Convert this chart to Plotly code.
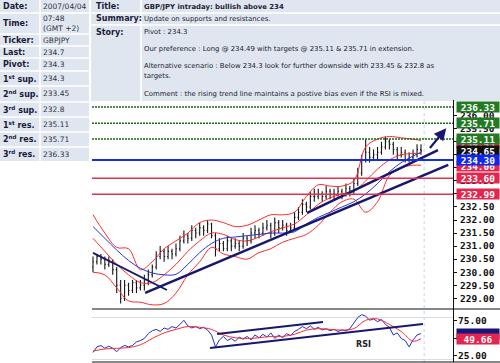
import plotly.graph_objects as go

W, H = 500, 363
def px(x): return x / W
def py(y): return 1 - y / H

# ---------------- data ----------------
BAR_IDX = list(range(84))
OPEN = [230.2, 230.4, 230.6, 230.5, 230.3, 230.4, 230.1, 229.5, 229.0, 229.5,
        229.3, 229.6, 229.4, 229.5, 229.7, 229.9, 230.2, 230.6, 230.8, 230.6,
        230.8, 230.7, 230.9, 231.2, 231.4, 231.3, 231.6, 231.5, 231.7, 231.6,
        231.85, 231.4, 230.9, 231.1, 230.9, 231.2, 231.0, 231.1, 231.0, 231.3,
        231.2, 231.5, 231.6, 231.5, 231.7, 231.8, 231.5, 231.9, 231.7, 231.8,
        231.6, 231.7, 232.1, 232.3, 232.6, 232.5, 232.9, 232.9, 233.0, 232.9,
        233.1, 233.0, 233.0, 233.1, 233.0, 233.2, 233.1, 233.4, 233.8, 234.3,
        234.6, 234.4, 234.5, 234.6, 234.8, 235.0, 234.9, 234.7, 234.5, 234.6,
        234.3, 234.4, 234.5, 234.7]
HIGH = [230.6, 230.7, 230.7, 230.6, 230.6, 230.5, 230.2, 229.7, 229.7, 229.6,
        229.7, 229.7, 229.7, 229.9, 230.1, 230.3, 230.8, 231.0, 230.9, 231.0,
        230.9, 231.1, 231.4, 231.6, 231.5, 231.8, 231.7, 231.9, 231.8, 232.0,
        231.9, 231.5, 231.3, 231.2, 231.4, 231.3, 231.3, 231.2, 231.5, 231.4,
        231.7, 231.8, 231.7, 231.9, 232.0, 231.9, 232.1, 232.0, 232.0, 231.9,
        231.9, 232.3, 232.5, 232.8, 232.7, 233.1, 233.2, 233.2, 233.1, 233.3,
        233.2, 233.2, 233.3, 233.2, 233.4, 233.3, 233.6, 234.0, 234.5, 235.1,
        234.8, 234.7, 234.8, 235.0, 235.2, 235.1, 235.0, 234.8, 234.8, 234.7,
        234.6, 234.7, 234.9, 234.9]
LOW = [230.0, 230.3, 230.3, 230.1, 230.2, 229.9, 229.2, 228.8, 228.9, 229.1,
       229.2, 229.2, 229.3, 229.3, 229.5, 229.8, 230.1, 230.5, 230.4, 230.5,
       230.5, 230.6, 230.8, 231.1, 231.1, 231.2, 231.3, 231.4, 231.4, 231.5,
       231.3, 230.6, 230.8, 230.8, 230.8, 230.8, 230.9, 230.8, 230.9, 231.0,
       231.1, 231.3, 231.3, 231.4, 231.6, 231.3, 231.4, 231.5, 231.6, 231.4,
       231.5, 231.6, 232.0, 232.2, 232.3, 232.4, 232.7, 232.8, 232.7, 232.8,
       232.8, 232.8, 232.9, 232.8, 232.9, 232.9, 233.0, 233.3, 233.7, 234.2,
       234.2, 234.3, 234.3, 234.5, 234.7, 234.7, 234.5, 234.3, 234.4, 234.2,
       234.2, 234.3, 234.4, 234.5]
CLOSE = [230.4, 230.6, 230.5, 230.3, 230.4, 230.1, 229.5, 229.0, 229.5, 229.3,
         229.6, 229.4, 229.5, 229.7, 229.9, 230.2, 230.6, 230.8, 230.6, 230.8,
         230.7, 230.9, 231.2, 231.4, 231.3, 231.6, 231.5, 231.7, 231.6, 231.85,
         231.4, 230.9, 231.1, 230.9, 231.2, 231.0, 231.1, 231.0, 231.3, 231.2,
         231.5, 231.6, 231.5, 231.7, 231.8, 231.5, 231.9, 231.7, 231.8, 231.6,
         231.7, 232.1, 232.3, 232.6, 232.5, 232.9, 232.9, 233.0, 232.9, 233.1,
         233.0, 233.0, 233.1, 233.0, 233.2, 233.1, 233.4, 233.8, 234.3, 234.6,
         234.4, 234.5, 234.6, 234.8, 235.0, 234.9, 234.7, 234.5, 234.6, 234.3,
         234.4, 234.5, 234.7, 234.65]

BAND_IDX = [0, 3, 6, 9, 12, 15, 18, 21, 24, 27, 30, 33, 36, 39, 42, 45, 48, 51,
            54, 57, 60, 63, 66, 69, 72, 75, 78, 81, 83]
BB_UPPER = [232.2, 231.5, 230.95, 230.9, 230.1, 230.4, 230.9, 231.2, 231.5, 231.9,
            232.0, 231.9, 231.75, 231.8, 232.0, 232.2, 232.2, 232.3, 232.9, 233.35,
            233.3, 233.3, 233.5, 234.8, 235.1, 235.2, 235.15, 235.1, 235.05]
BB_MID = [231.3, 230.8, 230.3, 229.9, 229.6, 229.6, 229.9, 230.3, 230.8, 231.2,
          231.5, 231.45, 231.25, 231.2, 231.35, 231.55, 231.7, 231.85, 232.2, 232.6,
          232.85, 233.0, 233.1, 233.5, 233.95, 234.3, 234.5, 234.55, 234.55]
BB_LOWER = [230.0, 229.9, 229.4, 228.9, 228.85, 228.75, 228.8, 229.2, 229.9, 230.4,
            230.95, 230.7, 230.6, 230.5, 230.75, 230.9, 231.15, 231.3, 231.45, 231.8,
            232.3, 232.7, 232.8, 232.3, 232.7, 233.7, 234.0, 234.1, 234.1]
MA_LONG = [231.75, 231.3, 230.85, 230.45, 230.15, 229.97, 229.9, 229.92, 230.3, 230.75,
           231.1, 231.3, 231.35, 231.4, 231.45, 231.5, 231.5, 231.55, 231.85, 232.1,
           232.3, 232.5, 232.7, 233.0, 233.4, 233.85, 234.2, 234.45, 234.6]

RSI = [30, 38, 40, 36, 39, 36, 31, 37, 40, 38,
       40, 45, 47, 50, 57, 61, 63, 60, 65, 63,
       67, 65, 70, 76, 68, 65, 67, 64, 66, 62,
       55, 38, 48, 53, 47, 50, 46, 52, 49, 53,
       48, 55, 51, 56, 52, 58, 50, 55, 51, 57,
       54, 60, 63, 67, 64, 68, 63, 66, 62, 64,
       61, 63, 60, 62, 61, 64, 72, 80, 84, 82,
       76, 78, 74, 77, 70, 66, 55, 58, 50, 47,
       38, 48, 55, 57]
RSI_SIGNAL = [32, 35, 36, 37, 41, 50, 58, 63, 67, 66,
              63, 55, 51, 50, 51, 53, 53, 56, 62, 64,
              63, 62, 64, 76, 78, 70, 60, 46, 49.66]

LEVEL_RES = [236.33, 235.71, 235.11]
LEVEL_PIVOT = [234.30]
LEVEL_SUP = [233.60, 232.99]

TREND_MAIN_X, TREND_MAIN_Y = [13.2, 89.9], [229.21, 234.11]
TREND_STEEP_X, TREND_STEEP_Y = [54.2, 87.3], [232.27, 234.68]
TREND_DOWN_X, TREND_DOWN_Y = [0, 18.7], [230.74, 229.32]
ARROW_X, ARROW_Y = [84.5, 89.4], [234.62, 235.52]
RSI_UP_X, RSI_UP_Y = [31.4, 58.2], [56.4, 73.6]
RSI_LO_X, RSI_LO_Y = [29.6, 83.5], [36.4, 70.7]
NOW_IDX = 83.8

PRICE_TICKS = [229.0, 229.5, 230.0, 230.5, 231.0, 231.5, 232.0, 232.5, 233.0,
               233.5, 234.0, 234.5, 235.0, 235.5, 236.0]
PRICE_TICK_TEXT = ["229.00", "229.50", "230.00", "230.50", "231.00", "231.50", "232.00",
                   "232.50", " ", "233.50", " ", " ", " ", "235.50", "236.00"]
RSI_TICKS = [25, 50, 75]
RSI_LABELLED = [25, 75]

TAG_VALUES = [234.95, 236.33, 235.71, 235.11, 234.65, 234.06, 234.30, 233.60, 232.99]
TAG_COLORS = ["#e4254d", "#237a23", "#237a23", "#237a23", "#111111", "#e4254d",
              "#1026f0", "#e4254d", "#e4254d"]

TABLE_LABELS = ["Date:", "Time:", "Ticker:", "Last:", "Pivot:",
                "1<sup>st</sup> sup.", "2<sup>nd</sup> sup.", "3<sup>rd</sup> sup.",
                "1<sup>st</sup> res.", "2<sup>nd</sup> res.", "3<sup>rd</sup> res."]
TABLE_VALUES = ["2007/04/04", "07:48<br>(GMT +2)", "GBPJPY", "234.7", "234.3",
                "234.3", "233.45", "232.8", "235.11", "235.71", "236.33"]
STORY_LABELS = ["Title:", "Summary:", "Story:"]
STORY_LINES = ["<b>GBP/JPY intraday: bullish above 234</b>",
               "Update on supports and resistances.",
               "Pivot : 234.3",
               "Our preference : Long @ 234.49 with targets @ 235.11 & 235.71 in extension.",
               "Alternative scenario : Below 234.3 look for further downside with 233.45 & 232.8 as",
               "targets.",
               "Comment : the rising trend line maintains a postive bias even if the RSI is mixed."]

# ---------------- layout geometry (pixels) ----------------
ROW_Y = [6.5, 23.5, 40, 52, 64.5, 78.5, 94, 109.5, 124.5, 139.5, 154]
ROW_EDGES = [13, 34, 46, 58, 71, 86, 102, 117, 132, 147]
STORY_LABEL_Y = [6.5, 19, 32]
STORY_Y = [6.5, 19, 32, 49, 66, 76, 94]

NAVY = "#17176e"
BG = "#dfe6ef"
TXT = "#1b1b3a"
SANS = "DejaVu Sans"
MONO = "DejaVu Sans Mono"
TAGFONT = 9.5

fig = go.Figure()

for ys in (BB_UPPER, BB_MID, BB_LOWER):
    fig.add_trace(go.Scatter(x=BAND_IDX, y=ys, mode="lines", line=dict(color="#ff2a2a", width=1, shape="spline"),
                             xaxis="x", yaxis="y", hoverinfo="skip"))
fig.add_trace(go.Scatter(x=BAND_IDX, y=MA_LONG, mode="lines", line=dict(color="#2336d8", width=1, shape="spline"),
                         xaxis="x", yaxis="y", hoverinfo="skip"))

fig.add_trace(go.Ohlc(x=BAR_IDX, open=OPEN, high=HIGH, low=LOW, close=CLOSE,
                      increasing=dict(line=dict(color="#151515", width=1.1)),
                      decreasing=dict(line=dict(color="#151515", width=1.1)),
                      tickwidth=0.25, xaxis="x", yaxis="y", hoverinfo="skip"))

for tx, ty, w in ((TREND_MAIN_X, TREND_MAIN_Y, 2.5), (TREND_STEEP_X, TREND_STEEP_Y, 2.5),
                  (TREND_DOWN_X, TREND_DOWN_Y, 1.8)):
    fig.add_trace(go.Scatter(x=tx, y=ty, mode="lines", line=dict(color=NAVY, width=w),
                             xaxis="x", yaxis="y", hoverinfo="skip"))

fig.add_trace(go.Scatter(x=BAR_IDX, y=RSI, mode="lines", line=dict(color="#2030c8", width=1),
                         xaxis="x2", yaxis="y2", hoverinfo="skip"))
fig.add_trace(go.Scatter(x=BAND_IDX, y=RSI_SIGNAL, mode="lines", line=dict(color="#ff2a2a", width=1, shape="spline"),
                         xaxis="x2", yaxis="y2", hoverinfo="skip"))
for tx, ty in ((RSI_UP_X, RSI_UP_Y), (RSI_LO_X, RSI_LO_Y)):
    fig.add_trace(go.Scatter(x=tx, y=ty, mode="lines", line=dict(color=NAVY, width=2),
                             xaxis="x2", yaxis="y2", hoverinfo="skip"))

shapes = []
shapes.append(dict(type="rect", xref="paper", yref="paper", x0=px(0), x1=px(89), y0=py(161), y1=py(0),
                   fillcolor=BG, line=dict(width=0), layer="below"))
for e in ROW_EDGES:
    shapes.append(dict(type="line", xref="paper", yref="paper", x0=px(0), x1=px(89), y0=py(e), y1=py(e),
                       line=dict(color="white", width=1.5), layer="below"))
shapes.append(dict(type="line", xref="paper", yref="paper", x0=px(40), x1=px(40), y0=py(161), y1=py(0),
                   line=dict(color="white", width=1.5), layer="below"))
shapes.append(dict(type="rect", xref="paper", yref="paper", x0=px(91), x1=px(500), y0=py(101), y1=py(0),
                   fillcolor=BG, line=dict(width=0), layer="below"))
for e in (13, 25):
    shapes.append(dict(type="line", xref="paper", yref="paper", x0=px(91), x1=px(500), y0=py(e), y1=py(e),
                       line=dict(color="white", width=1.5), layer="below"))
shapes.append(dict(type="line", xref="paper", yref="paper", x0=px(141), x1=px(141), y0=py(101), y1=py(0),
                   line=dict(color="white", width=1.5), layer="below"))

for lv in LEVEL_RES:
    shapes.append(dict(type="line", xref="x domain", yref="y", x0=0, x1=1, y0=lv, y1=lv,
                       line=dict(color="#1a6a1a", width=1.5, dash="2px,1px")))
for lv in LEVEL_PIVOT:
    shapes.append(dict(type="line", xref="x domain", yref="y", x0=0, x1=1, y0=lv, y1=lv,
                       line=dict(color="#1530d8", width=2)))
for lv in LEVEL_SUP:
    shapes.append(dict(type="line", xref="x domain", yref="y", x0=0, x1=1, y0=lv, y1=lv,
                       line=dict(color="#e3304f", width=1.5)))
for lv in (80, 20):
    shapes.append(dict(type="line", xref="x2 domain", yref="y2", x0=0, x1=1, y0=lv, y1=lv,
                       line=dict(color="#d4dde9", width=1), layer="below"))
shapes.append(dict(type="line", xref="x", yref="paper", x0=NOW_IDX, x1=NOW_IDX, y0=py(362), y1=py(100),
                   line=dict(color="#c5d0e6", width=1, dash="dot"), layer="below"))
shapes.append(dict(type="line", xref="paper", yref="paper", x0=px(92), x1=px(500), y0=py(309), y1=py(309),
                   line=dict(color="#111", width=1.2)))
shapes.append(dict(type="line", xref="paper", yref="paper", x0=px(92), x1=px(500), y0=py(362), y1=py(362),
                   line=dict(color="#111", width=1.2)))

ann = []
for lab, val, y in zip(TABLE_LABELS, TABLE_VALUES, ROW_Y):
    ann.append(dict(x=px(1), y=py(y), xref="paper", yref="paper", xanchor="left", yanchor="middle",
                    text="<b>" + lab + "</b>", showarrow=False, font=dict(family=SANS, size=8, color=TXT)))
    ann.append(dict(x=px(41), y=py(y), xref="paper", yref="paper", xanchor="left", yanchor="middle",
                    text=val, showarrow=False, align="left", font=dict(family=SANS, size=7.5, color="#333344")))
for lab, y in zip(STORY_LABELS, STORY_LABEL_Y):
    ann.append(dict(x=px(94), y=py(y), xref="paper", yref="paper", xanchor="left", yanchor="middle",
                    text="<b>" + lab + "</b>", showarrow=False, font=dict(family=SANS, size=8, color=TXT)))
for line, y in zip(STORY_LINES, STORY_Y):
    ann.append(dict(x=px(142), y=py(y), xref="paper", yref="paper", xanchor="left", yanchor="middle",
                    text=line, showarrow=False, font=dict(family=SANS, size=6.9, color="#222233")))

ann.append(dict(x=ARROW_X[1], y=ARROW_Y[1], ax=ARROW_X[0], ay=ARROW_Y[0], xref="x", yref="y",
                axref="x", ayref="y", showarrow=True, arrowhead=2, arrowsize=1.1, arrowwidth=2.2,
                arrowcolor=NAVY, text=" "))
ann.append(dict(x=68.4, y=40.7, xref="x2", yref="y2", text="<b>RSI</b>", showarrow=False,
                font=dict(family=SANS, size=8, color="#222")))

# RSI scale labels
for v in RSI_LABELLED:
    ann.append(dict(x=px(457), y=v, xref="paper", yref="y2", xanchor="left", yanchor="middle",
                    text=f"<b>{v:.2f}</b>", showarrow=False, borderpad=0,
                    font=dict(family=MONO, size=TAGFONT, color="#111")))

for v, c in zip(TAG_VALUES, TAG_COLORS):
    ann.append(dict(x=px(456), y=v, xref="paper", yref="y", xanchor="left", yanchor="middle",
                    text=f"<b>{v:.2f}</b>", showarrow=False, bgcolor=c, width=42, height=10, borderpad=0,
                    font=dict(family=MONO, size=TAGFONT, color="white")))
# RSI value marker (its figure is hidden behind the signal tag in the reference)
ann.append(dict(x=px(456), y=RSI[-1], xref="paper", yref="y2", xanchor="left", yanchor="middle",
                text=" ", showarrow=False, bgcolor="#15157a", width=42, height=10, borderpad=0,
                font=dict(family=MONO, size=TAGFONT, color="white")))
ann.append(dict(x=px(456), y=RSI_SIGNAL[-1], xref="paper", yref="y2", xanchor="left", yanchor="middle",
                text=f"<b>{RSI_SIGNAL[-1]:.2f}</b>", showarrow=False, bgcolor="#e4254d", width=42, height=10,
                borderpad=0, font=dict(family=MONO, size=TAGFONT, color="white")))

XDOM = [px(92), px(453)]
fig.update_layout(
    width=W, height=H, margin=dict(l=0, r=0, t=0, b=0),
    paper_bgcolor="white", plot_bgcolor="white", showlegend=False,
    shapes=shapes, annotations=ann,
    xaxis=dict(domain=XDOM, range=[-0.25, 91.1], showticklabels=False, showgrid=False, zeroline=False,
               anchor="y", rangeslider=dict(visible=False)),
    xaxis2=dict(domain=XDOM, range=[-0.25, 91.1], matches="x", showticklabels=False, showgrid=False,
                zeroline=False, anchor="y2"),
    yaxis=dict(domain=[py(309), py(100)], range=[228.59, 236.60], side="right", anchor="x",
               tickvals=PRICE_TICKS, ticktext=PRICE_TICK_TEXT, ticklabeloverflow="allow",
               ticks="outside", ticklen=3, tickcolor="#111", showline=True, linecolor="#111", linewidth=1.2,
               showgrid=False, zeroline=False, ticklabelstandoff=1,
               tickfont=dict(family=MONO, size=TAGFONT, color="#111", weight="bold")),
    yaxis2=dict(domain=[py(362), py(309)], range=[16.4, 92.1], side="right", anchor="x2",
                tickvals=RSI_TICKS, showticklabels=False,
                ticks="outside", ticklen=3, tickcolor="#111", showline=True, linecolor="#111", linewidth=1.2,
                showgrid=False, zeroline=False),
)

fig.write_html("out.html", config={"displayModeBar": False, "staticPlot": True},
               post_script="document.body.style.margin='0';document.body.style.overflow='hidden';")
